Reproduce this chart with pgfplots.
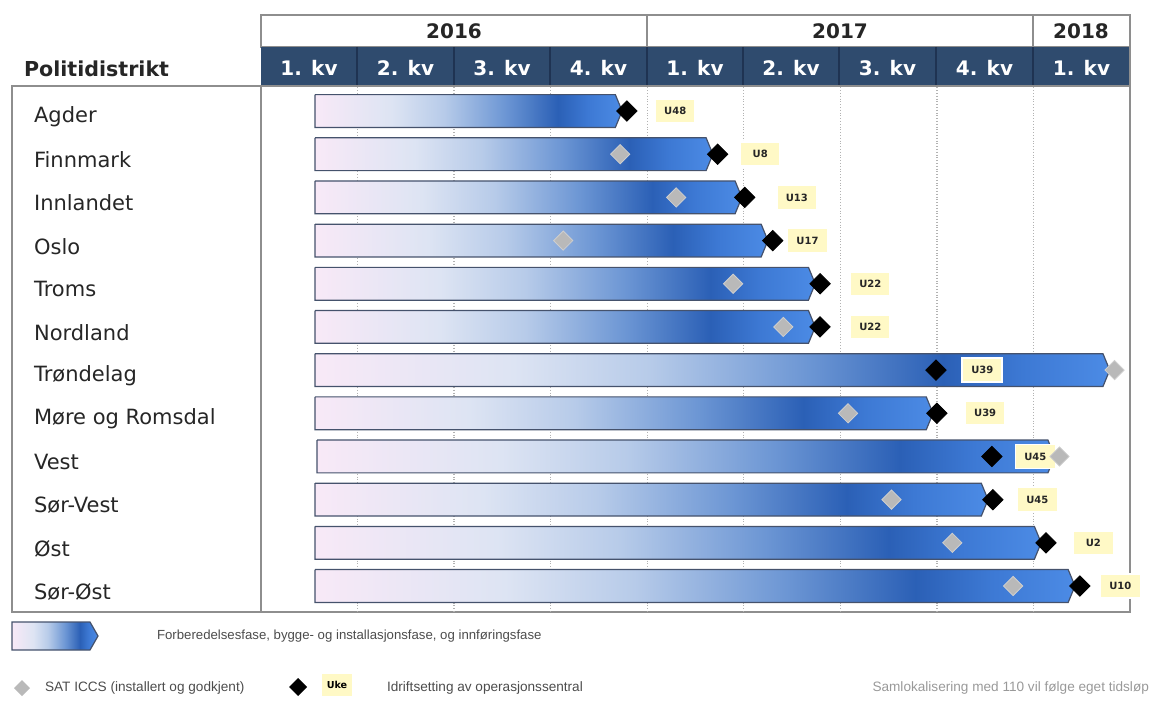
\documentclass[border=0pt]{standalone}
\usepackage{fontspec}
\setmainfont{DejaVu Sans}
\newfontfamily\arialf{Liberation Sans}
\usepackage{pgfplots}
\usepackage{pgfplotstable}
\pgfplotsset{compat=1.18}

\definecolor{c0}{HTML}{F8E9F7}
\definecolor{c1}{HTML}{DDE4F3}
\definecolor{c2}{HTML}{B7CBE9}
\definecolor{c3}{HTML}{6C96D4}
\definecolor{c4}{HTML}{2B60B6}
\definecolor{c5}{HTML}{3D79D4}
\definecolor{c6}{HTML}{4C8BE5}
\definecolor{barline}{HTML}{45526C}
\definecolor{navy}{HTML}{2F4B6E}
\definecolor{navydark}{HTML}{1F3352}
\definecolor{framegray}{HTML}{8E8E8E}
\definecolor{diamgray}{HTML}{B9B9B9}
\definecolor{labyellow}{HTML}{FFF9C6}
\definecolor{txt}{HTML}{262626}

% colours between 25bp and 75bp are stretched over each bar
\pgfdeclarehorizontalshading{barshade}{100bp}{color(0bp)=(c0); color(25bp)=(c0); color(37.5bp)=(c1); color(46bp)=(c2); color(56bp)=(c3); color(64.5bp)=(c4); color(69.5bp)=(c5); color(75bp)=(c6); color(100bp)=(c6)}

% row: 0 = Agder ... 11 = Sor-Ost; x in quarters from 1 Jan 2016
\pgfplotstableread{
row start end  gray black lab  week
0   0.56  3.74 nan  3.79  4.29 U48
1   0.56  4.68 3.72 4.73  5.17 U8
2   0.56  4.98 4.30 5.01  5.55 U13
3   0.56  5.25 3.13 5.30  5.66 U17
4   0.56  5.74 4.89 5.79  6.31 U22
5   0.56  5.74 5.41 5.79  6.31 U22
6   0.56  8.79 8.84 6.99  7.47 U39
7   0.56  6.96 6.08 7.00  7.50 U39
8   0.58  8.22 8.27 7.57  8.02 U45
9   0.56  7.53 6.53 7.58  8.04 U45
10  0.56  8.08 7.16 8.13  8.62 U2
11  0.56  8.43 7.79 8.48  8.90 U10
}\data

\pgfplotsset{barstyle/.style={shade, shading=barshade, draw=barline, line width=0.6pt, mark=none}}

\begin{document}
\begin{tikzpicture}
% frames, headers and legend in pixel units
\begin{scope}[x=0.5pt, y=-0.5pt]
  \path (0,0) rectangle (1156,695);
  \draw[framegray, line width=0.8pt] (261,15) rectangle (1130,47);
  \draw[framegray, line width=0.8pt] (647,15) -- (647,47) (1033,15) -- (1033,47);
  \fill[navy] (261,47) rectangle (1130,86);
  \foreach \xx in {357,454,550,647,743,839,936,1033}
    \draw[navydark, line width=0.8pt] (\xx,47) -- (\xx,86);
  \draw[framegray, line width=0.9pt] (12,86) rectangle (261,612);
  \draw[framegray, line width=0.9pt] (261,86) rectangle (1130,612);
  \draw[framegray, line width=0.9pt] (1130,15) -- (1130,612);

  \node[font=\bfseries\fontsize{10}{12}\selectfont, text=txt] at (454,31) {2016};
  \node[font=\bfseries\fontsize{10}{12}\selectfont, text=txt] at (840,31) {2017};
  \node[font=\bfseries\fontsize{10}{12}\selectfont, text=txt] at (1081,31) {2018};
  \foreach \xx/\qq in {309/1, 405.5/2, 502/3, 598.5/4, 695/1, 791/2, 887.5/3, 984.5/4, 1081.5/1}
    \node[font=\bfseries\fontsize{10}{12}\selectfont, text=white] at (\xx,68) {\qq. kv};
  \node[anchor=west, font=\bfseries\fontsize{10.3}{12}\selectfont, text=txt] at (17,69) {Politidistrikt};

  % legend
  \path[shade, shading=barshade, draw=barline, line width=0.6pt]
    (12,622) -- (90,622) -- (98,636) -- (90,650) -- (12,650) -- cycle;
  \node[anchor=west, font=\arialf\fontsize{6.6}{8}\selectfont, text=black!70] at (150,636)
    {Forberedelsesfase, bygge- og installasjonsfase, og innføringsfase};
  \fill[diamgray] (22,680) -- (30,688) -- (22,696) -- (14,688) -- cycle;
  \node[anchor=west, font=\arialf\fontsize{6.8}{8}\selectfont, text=black!70] at (38,688)
    {SAT ICCS (installert og godkjent)};
  \fill[black] (298,678) -- (307,687) -- (298,696) -- (289,687) -- cycle;
  \node[fill=labyellow, font=\bfseries\fontsize{4.8}{6}\selectfont, minimum width=15pt, minimum height=11pt, inner sep=0pt] at (337,685) {Uke};
  \node[anchor=west, font=\arialf\fontsize{6.8}{8}\selectfont, text=black!70] at (380,688)
    {Idriftsetting av operasjonssentral};
  \node[anchor=east, font=\arialf\fontsize{6.8}{8}\selectfont, text=black!40] at (1156,688)
    {Samlokalisering med 110 vil følge eget tidsløp};
\end{scope}

\begin{axis}[
  at={(130.5pt,-305.95pt)}, anchor=south west,
  scale only axis, width=434.5pt, height=262.3pt,
  xmin=0, xmax=9, ymin=-0.55, ymax=11.6, y dir=reverse,
  axis line style={draw=none}, tick style={draw=none},
  xtick={1,...,8}, xticklabels={},
  xmajorgrids, grid style={gray!60, densely dotted, line width=0.7pt},
  ytick={0,...,11},
  yticklabels={Agder,Finnmark,Innlandet,Oslo,Troms,Nordland,Trøndelag,Møre og Romsdal,Vest,Sør-Vest,Øst,Sør-Øst},
  yticklabel style={anchor=west, xshift=-117pt, yshift=-2.8pt, text=txt, font=\fontsize{10.5}{12}\selectfont},
  clip=false,
]
  % one arrow-shaped bar for each district
  \pgfplotsinvokeforeach{0,...,11}{
    \pgfplotstablegetelem{#1}{start}\of\data \pgfmathsetmacro\bs{\pgfplotsretval}
    \pgfplotstablegetelem{#1}{end}\of\data \pgfmathsetmacro\be{\pgfplotsretval}
    \pgfmathsetmacro\bk{\be-0.07}
    \pgfmathsetmacro\yt{#1-0.38}
    \pgfmathsetmacro\yb{#1+0.38}
    \edef\temp{\noexpand\addplot[barstyle] coordinates {(\bs,\yt) (\bk,\yt) (\be,#1) (\bk,\yb) (\bs,\yb) (\bs,\yt)};}
    \temp
  }
  % week labels
  \addplot[only marks, mark=*, mark size=0pt, mark options={draw=none, fill=none},
    point meta=explicit symbolic, nodes near coords, nodes near coords align=center,
    every node near coord/.append style={fill=labyellow, draw=white, line width=0.8pt,
      font=\bfseries\fontsize{5}{6}\selectfont, text=black!85, inner sep=0pt,
      minimum width=20pt, minimum height=12pt}]
    table[x=lab, y=row, meta=week] {\data};
  % SAT ICCS
  \addplot[only marks, mark=square*, mark size=3.4pt,
    mark options={rotate=45, fill=diamgray, draw=diamgray!70!white}]
    table[x=gray, y=row] {\data};
  % idriftsetting
  \addplot[only marks, mark=square*, mark size=3.6pt,
    mark options={rotate=45, fill=black, draw=black}]
    table[x=black, y=row] {\data};
\end{axis}
\end{tikzpicture}
\end{document}
